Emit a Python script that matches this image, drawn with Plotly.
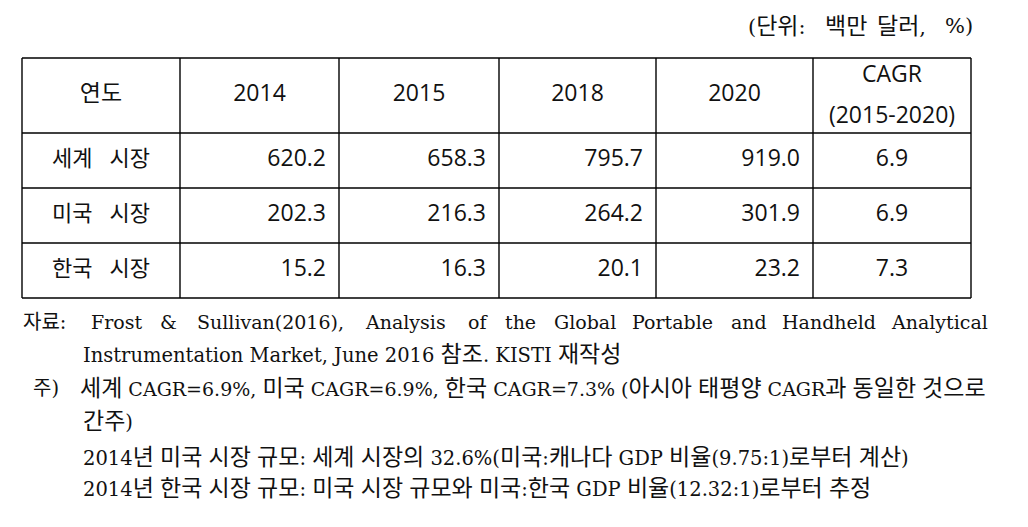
import re
import plotly.graph_objects as go

# table contents
header_labels = ['연도', '2014', '2015', '2018', '2020', 'CAGR<br>(2015-2020)']
markets = ['세계\u00a0\u00a0\u00a0시장', '미국\u00a0\u00a0\u00a0시장', '한국\u00a0\u00a0\u00a0시장']
val_2014 = [620.2, 202.3, 15.2]
val_2015 = [658.3, 216.3, 16.3]
val_2018 = [795.7, 264.2, 20.1]
val_2020 = [919.0, 301.9, 23.2]
cagr = [6.9, 6.9, 7.3]

# text around the table
unit_text = '(단위: 백만 달러, %)'
source_label = '자료:'
source_lines = ['Frost & Sullivan(2016), Analysis of the Global Portable and Handheld Analytical',
                'Instrumentation Market, June 2016 참조. KISTI 재작성']
note_label = '주)'
note_lines = ['세계 CAGR=6.9%, 미국 CAGR=6.9%, 한국 CAGR=7.3% (아시아 태평양 CAGR과 동일한 것으로',
              '간주)',
              '2014년 미국 시장 규모: 세계 시장의 32.6%(미국:캐나다 GDP 비율(9.75:1)로부터 계산)',
              '2014년 한국 시장 규모: 미국 시장 규모와 미국:한국 GDP 비율(12.32:1)로부터 추정']

W, H = 1028, 527
OFF = 8  # page body margin, axes are laid out in page pixels
TABLE_FONT = 'Open Sans, Noto Sans CJK KR, sans-serif'
NOTE_FONT = 'DejaVu Serif, Noto Sans CJK KR, serif'
INK = '#111111'

# table geometry
table_left, table_top = 22, 58
col_widths = [158, 159, 160, 157, 157, 158]
row_heights = [75, 55, 55, 55]

col_edges = [table_left]
for w in col_widths:
    col_edges.append(col_edges[-1] + w)
row_edges = [table_top]
for h in row_heights:
    row_edges.append(row_edges[-1] + h)
col_mid = [(a + b) / 2 for a, b in zip(col_edges[:-1], col_edges[1:])]
row_mid = [(a + b) / 2 for a, b in zip(row_edges[:-1], row_edges[1:])]
body_mid = row_mid[1:]
num_pad = 13

fig = go.Figure()

# header
fig.add_trace(go.Scatter(x=col_mid[:5], y=[row_mid[0]] * 5, text=header_labels[:5],
                         mode='text', textposition='middle center',
                         textfont=dict(family=TABLE_FONT, size=23, color=INK), hoverinfo='skip'))
cagr_head = header_labels[5].split('<br>')
fig.add_trace(go.Scatter(x=[col_mid[5]] * 2, y=[row_mid[0] - 19, row_mid[0] + 22], text=cagr_head,
                         mode='text', textposition='middle center',
                         textfont=dict(family=TABLE_FONT, size=23, color=INK), hoverinfo='skip'))

# row labels
fig.add_trace(go.Scatter(x=[col_mid[0]] * 3, y=body_mid, text=markets,
                         mode='text', textposition='middle center',
                         textfont=dict(family=TABLE_FONT, size=22, color=INK), hoverinfo='skip'))

# yearly values, right aligned
for i, vals in enumerate([val_2014, val_2015, val_2018, val_2020], start=1):
    fig.add_trace(go.Scatter(x=[col_edges[i + 1] - num_pad] * len(vals), y=body_mid,
                             text=[f'{v:.1f}' for v in vals],
                             mode='text', textposition='middle left',
                             textfont=dict(family=TABLE_FONT, size=23, color=INK), hoverinfo='skip'))

# CAGR, centered
fig.add_trace(go.Scatter(x=[col_mid[5]] * 3, y=body_mid, text=[f'{v:.1f}' for v in cagr],
                         mode='text', textposition='middle center',
                         textfont=dict(family=TABLE_FONT, size=23, color=INK), hoverinfo='skip'))

# grid lines
for ye in row_edges:
    fig.add_shape(type='line', xref='x', yref='y', x0=col_edges[0], x1=col_edges[-1], y0=ye, y1=ye,
                  line=dict(color='black', width=1.4))
for xe in col_edges:
    fig.add_shape(type='line', xref='x', yref='y', x0=xe, x1=xe, y0=row_edges[0], y1=row_edges[-1],
                  line=dict(color='black', width=1.4))


def hangul(text, size):
    # the source uses wide hangul next to narrow latin
    return re.sub(r'([\uac00-\ud7a3]+)', rf'<span style="font-size:{size}px">\1</span>', text)


def note(x, y, text, size=19.5, ksize=23):
    fig.add_annotation(x=x - 2, y=y, xref='x', yref='y', text=hangul(text, ksize), showarrow=False,
                       xanchor='left', yanchor='middle',
                       font=dict(family=NOTE_FONT, size=size, color=INK))


def spaced_line(y, text, starts, **kw):
    # justified lines: each word gets its own start
    for x, word in zip(starts, text.split(' ')):
        note(x, y, word, **kw)


# unit label, top right
spaced_line(26, unit_text, [748, 825, 877, 945], size=21, ksize=23)

# source
note(23, 322, source_label, ksize=20)
spaced_line(322, source_lines[0], [91, 160, 197, 365, 468, 505, 554, 632, 731, 782, 891], size=19)
note(83, 354, source_lines[1])

# notes
note(33, 388, note_label, ksize=20)
note(80, 388, note_lines[0], size=19)
for ny, line in zip([421, 457, 488], note_lines[1:]):
    note(83, ny, line)

fig.update_layout(width=W, height=H, margin=dict(l=0, r=0, t=0, b=0),
                  paper_bgcolor='white', plot_bgcolor='white', showlegend=False,
                  xaxis=dict(range=[OFF, W + OFF], visible=False, fixedrange=True),
                  yaxis=dict(range=[H + OFF, OFF], visible=False, fixedrange=True))

fig.write_html('out.html')
